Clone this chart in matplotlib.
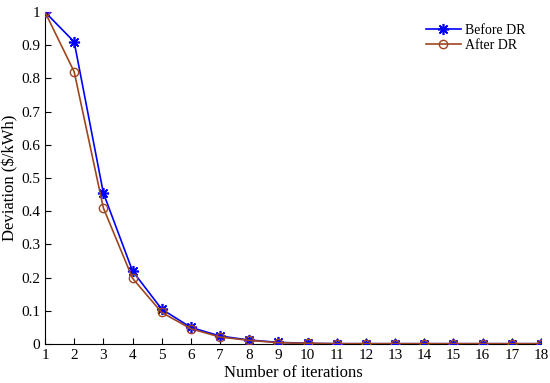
import matplotlib
matplotlib.use("Agg")
import matplotlib.pyplot as plt

iterations = list(range(1, 19))
before_dr = [1.0, 0.91, 0.455, 0.22, 0.105, 0.05, 0.024, 0.012, 0.005, 0.002, 0.001, 0.001, 0.001, 0.001, 0.001, 0.001, 0.001, 0.001]
after_dr = [1.0, 0.82, 0.41, 0.198, 0.095, 0.046, 0.021, 0.011, 0.004, 0.002, 0.001, 0.001, 0.001, 0.001, 0.001, 0.001, 0.001, 0.001]
yticks = [0, 0.1, 0.2, 0.3, 0.4, 0.5, 0.6, 0.7, 0.8, 0.9, 1]

plt.rcParams['font.family'] = ['Liberation Serif', 'DejaVu Serif']
fig = plt.figure(figsize=(5.5, 3.83), dpi=100)
ax = fig.add_axes([0.0818, 0.1018, 0.9018, 0.8669])

ax.plot(iterations, before_dr, color='#0000ff', marker=(8, 2, 0), markersize=8, mew=1.2,
        lw=1.2, label='Before DR', zorder=3)
ax.plot(iterations, after_dr, color='#a0461e', marker='o', markersize=6, mfc='none',
        mew=1.0, lw=1.2, label='After DR', zorder=4)

ax.set_xlim(1, 18)
ax.set_ylim(0, 1)
ax.set_xticks(iterations)
ax.set_yticks(yticks)
ax.set_yticklabels(['0', '0.1', '0.2', '0.3', '0.4', '0.5', '0.6', '0.7', '0.8', '0.9', '1'])
ax.tick_params(direction='in', length=4, labelsize=11, width=0.8)
for s in ['top', 'right']:
    ax.spines[s].set_visible(False)
ax.set_xlabel('Number of iterations', fontsize=12, labelpad=2)
ax.set_ylabel('Deviation ($/kWh)', fontsize=12, labelpad=2)

ax.legend(loc='upper right', bbox_to_anchor=(0.985, 0.99), frameon=False, fontsize=10,
          handlelength=2.5, borderaxespad=0.2, labelspacing=0.15, handletextpad=0.3)

fig.savefig('out.png', dpi=100)
